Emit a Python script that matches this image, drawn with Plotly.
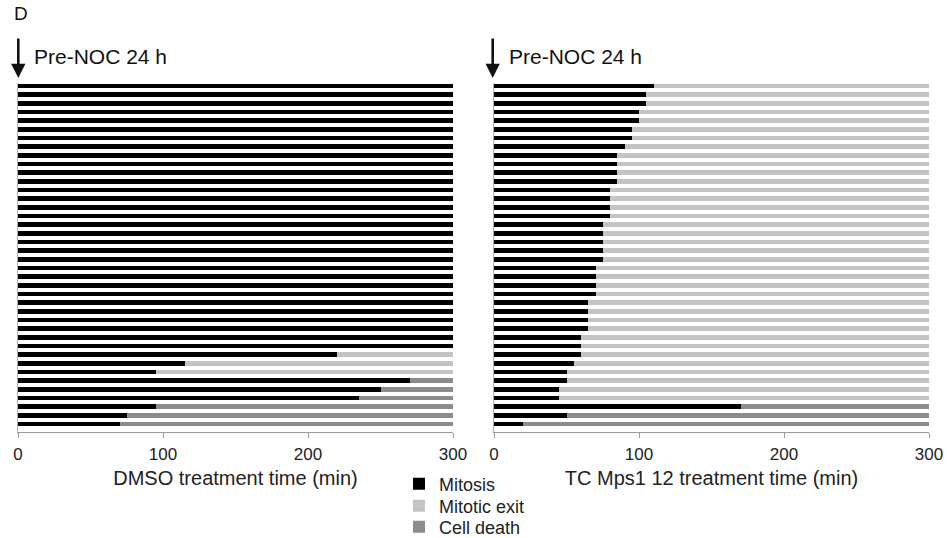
import plotly.graph_objects as go

# ---------------- data (top row first) ----------------
cells = list(range(40))

dmso_mitosis = [300, 300, 300, 300, 300, 300, 300, 300, 300, 300,
                300, 300, 300, 300, 300, 300, 300, 300, 300, 300,
                300, 300, 300, 300, 300, 300, 300, 300, 300, 300,
                300, 220, 115, 95, 270, 250, 235, 95, 75, 70]
dmso_exit = [0, 0, 0, 0, 0, 0, 0, 0, 0, 0,
             0, 0, 0, 0, 0, 0, 0, 0, 0, 0,
             0, 0, 0, 0, 0, 0, 0, 0, 0, 0,
             0, 80, 185, 205, 0, 0, 0, 0, 0, 0]
dmso_death = [0, 0, 0, 0, 0, 0, 0, 0, 0, 0,
              0, 0, 0, 0, 0, 0, 0, 0, 0, 0,
              0, 0, 0, 0, 0, 0, 0, 0, 0, 0,
              0, 0, 0, 0, 30, 50, 65, 205, 225, 230]

tc_mitosis = [110, 105, 105, 100, 100, 95, 95, 90, 85, 85,
              85, 85, 80, 80, 80, 80, 75, 75, 75, 75,
              75, 70, 70, 70, 70, 65, 65, 65, 65, 60,
              60, 60, 55, 50, 50, 45, 45, 170, 50, 20]
tc_exit = [190, 195, 195, 200, 200, 205, 205, 210, 215, 215,
           215, 215, 220, 220, 220, 220, 225, 225, 225, 225,
           225, 230, 230, 230, 230, 235, 235, 235, 235, 240,
           240, 240, 245, 250, 250, 255, 255, 0, 0, 0]
tc_death = [0, 0, 0, 0, 0, 0, 0, 0, 0, 0,
            0, 0, 0, 0, 0, 0, 0, 0, 0, 0,
            0, 0, 0, 0, 0, 0, 0, 0, 0, 0,
            0, 0, 0, 0, 0, 0, 0, 130, 250, 280]

x_ticks = [0, 100, 200, 300]
series_names = ["Mitosis", "Mitotic exit", "Cell death"]
series_colors = ["#000000", "#c4c4c4", "#8c8c8c"]
legend_ids = ["legend", "legend2", "legend3"]

FONT = "Liberation Sans, Arial, sans-serif"
W, H = 947, 538


def px_x(p):
    return p / W


def px_y(p):
    return 1 - p / H


fig = go.Figure()

panels = [
    ("x", "y", [dmso_mitosis, dmso_exit, dmso_death], True),
    ("x2", "y2", [tc_mitosis, tc_exit, tc_death], False),
]
for xa, ya, series, show in panels:
    for name, color, vals, lg in zip(series_names, series_colors, series, legend_ids):
        fig.add_trace(go.Bar(
            x=vals, y=cells, orientation="h", name=name,
            marker=dict(color=color, line=dict(width=0)),
            width=0.56, xaxis=xa, yaxis=ya,
            legend=lg, showlegend=show, hoverinfo="skip",
        ))

xaxis_common = dict(
    range=[0, 300], tickvals=x_ticks, ticktext=[str(t) for t in x_ticks],
    showline=True, linecolor="#9a9a9a", linewidth=1,
    ticks="outside", ticklen=5, tickcolor="#9a9a9a", tickwidth=1,
    ticklabelstandoff=2,
    showgrid=False, zeroline=False, automargin=False,
    tickfont=dict(family=FONT, size=17, color="#222222"),
    fixedrange=True,
)
yaxis_common = dict(
    range=[39.92, -0.38], showticklabels=False, ticks="",
    showline=True, linecolor="#b0b0b0", linewidth=1,
    showgrid=False, zeroline=False, automargin=False,
    domain=[px_y(432), px_y(82.7)], fixedrange=True,
)

legend_common = dict(
    xanchor="left", yanchor="middle",
    font=dict(family=FONT, size=18, color="#222222"),
    bgcolor="rgba(0,0,0,0)", borderwidth=0,
    itemclick=False, itemdoubleclick=False,
)

fig.update_layout(
    width=W, height=H,
    margin=dict(l=0, r=0, t=0, b=0, autoexpand=False),
    paper_bgcolor="white", plot_bgcolor="white",
    barmode="stack", template="none",
    font=dict(family=FONT, color="#222222"),
    xaxis=dict(**xaxis_common,
               domain=[px_x(18), px_x(453)], anchor="y",
               title=dict(text="DMSO treatment time (min)",
                          font=dict(family=FONT, size=20, color="#222222"),
                          standoff=7)),
    xaxis2=dict(**xaxis_common,
                domain=[px_x(494), px_x(929)], anchor="y2",
                title=dict(text="TC Mps1 12 treatment time (min)",
                           font=dict(family=FONT, size=20, color="#222222"),
                           standoff=7)),
    yaxis=dict(**yaxis_common, anchor="x"),
    yaxis2=dict(**yaxis_common, anchor="x2"),
    legend=dict(**legend_common, x=px_x(399), y=px_y(484)),
    legend2=dict(**legend_common, x=px_x(399), y=px_y(506)),
    legend3=dict(**legend_common, x=px_x(399), y=px_y(527)),
    showlegend=True,
)

# panel letter
fig.add_annotation(text="D", xref="paper", yref="paper",
                   x=px_x(12), y=px_y(14), xanchor="left", yanchor="middle",
                   showarrow=False, font=dict(family=FONT, size=19, color="#111111"))

# arrows + labels
for ax_px, text_px in [(18.3, 32), (492.7, 507)]:
    fig.add_annotation(text="", xref="paper", yref="paper",
                       x=px_x(ax_px), y=px_y(78), ax=0, ay=-41,
                       showarrow=True, arrowhead=2, arrowsize=1.1,
                       arrowwidth=2.6, arrowcolor="#111111", standoff=0)
    fig.add_annotation(text="Pre-NOC 24 h", xref="paper", yref="paper",
                       x=px_x(text_px), y=px_y(56), xanchor="left", yanchor="middle",
                       showarrow=False, font=dict(family=FONT, size=21, color="#111111"))

fig.write_html(
    "out.html",
    config={"displayModeBar": False, "staticPlot": False},
    post_script="document.body.style.margin='0';document.body.style.overflow='hidden';",
)
